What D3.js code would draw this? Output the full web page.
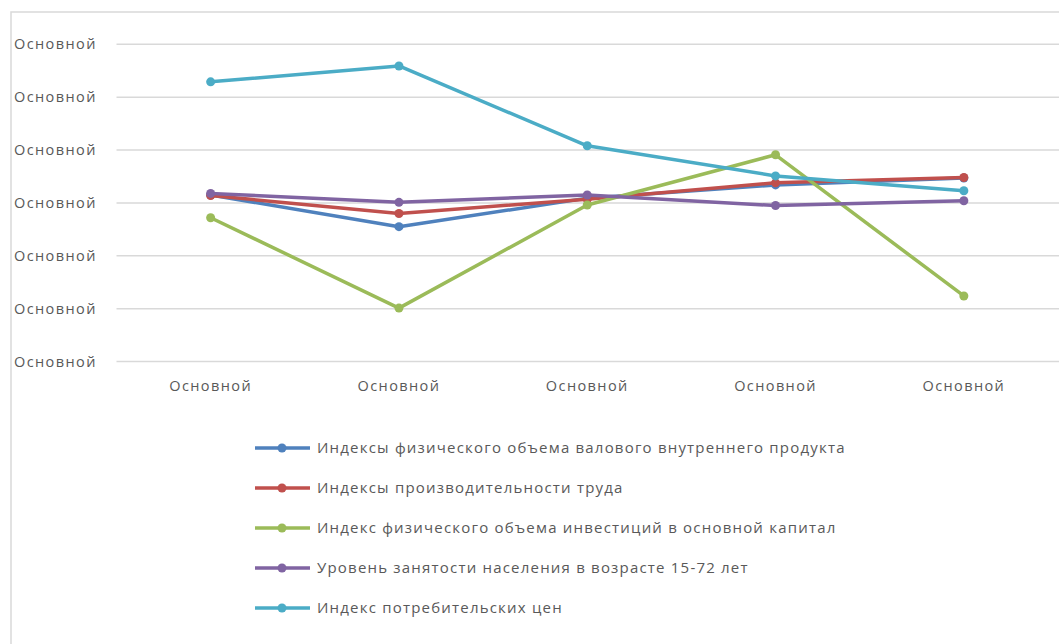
<!DOCTYPE html>
<html lang="ru">
<head>
<meta charset="UTF-8">
<title>Line Chart</title>
<style>
  body{margin:0;background:#fff;}
  svg{display:block;font-family:"Open Sans",sans-serif;}
  .grid line{stroke:#d9d9d9;stroke-width:1.5;}
  .axis text{fill:#595959;font-size:14.5px;letter-spacing:1.4px;}
  .legend text{fill:#595959;font-size:15px;letter-spacing:1.2px;}
</style>
</head>
<body>
<script src="https://cdn.jsdelivr.net/npm/d3@7"></script>
<script>
// категории (подписи по оси X) и подписи оси Y
var categories = ["Основной", "Основной", "Основной", "Основной", "Основной"];
var yTickLabels = ["Основной", "Основной", "Основной", "Основной", "Основной", "Основной", "Основной"];

// ряды
var seriesNames = [
  "Индексы физического объема валового внутреннего продукта",
  "Индексы производительности труда",
  "Индекс физического объема инвестиций в основной капитал",
  "Уровень занятости населения в возрасте 15-72 лет",
  "Индекс потребительских цен"
];
var gdp        = [3.15, 2.55, 3.09, 3.34, 3.47];
var labour     = [3.14, 2.80, 3.07, 3.38, 3.48];
var investment = [2.72, 1.01, 2.96, 3.91, 1.24];
var employment = [3.18, 3.01, 3.15, 2.95, 3.04];
var cpi        = [5.29, 5.59, 4.08, 3.51, 3.23];
var colors = ["#4f81bd", "#c0504d", "#9bbb59", "#8064a2", "#4bacc6"];

var allSeries = [gdp, labour, investment, employment, cpi];

var W = 1059, H = 644;
var svg = d3.select("body").append("svg").attr("width", W).attr("height", H);

// рамка области диаграммы (обрезана справа и снизу)
svg.append("rect")
  .attr("x", 11).attr("y", 12)
  .attr("width", W + 20).attr("height", H + 20)
  .attr("fill", "none").attr("stroke", "#d9d9d9").attr("stroke-width", 1.5);

var x = d3.scaleBand().domain(d3.range(categories.length)).range([116.5, 1058]);
var y = d3.scaleLinear().domain([0, 6]).range([361.5, 44.3]);

// сетка
svg.append("g").attr("class", "grid")
  .selectAll("line").data(d3.range(yTickLabels.length)).enter()
  .append("line")
  .attr("x1", 116.5).attr("x2", W)
  .attr("y1", function(d){ return y(d); })
  .attr("y2", function(d){ return y(d); });

// подписи оси Y
svg.append("g").attr("class", "axis")
  .selectAll("text").data(yTickLabels).enter()
  .append("text")
  .attr("x", 14)
  .attr("y", function(d, i){ return y(i); })
  .attr("dy", "0.35em")
  .text(function(d){ return d; });

// подписи оси X
svg.append("g").attr("class", "axis")
  .selectAll("text").data(categories).enter()
  .append("text")
  .attr("x", function(d, i){ return x(i) + x.bandwidth() / 2; })
  .attr("y", 386)
  .attr("dy", "0.35em")
  .attr("text-anchor", "middle")
  .text(function(d){ return d; });

var line = d3.line()
  .x(function(d, i){ return x(i) + x.bandwidth() / 2; })
  .y(function(d){ return y(d); });

allSeries.forEach(function(s, k){
  var g = svg.append("g");
  g.append("path")
    .datum(s)
    .attr("d", line)
    .attr("fill", "none")
    .attr("stroke", colors[k])
    .attr("stroke-width", 3.5)
    .attr("stroke-linejoin", "round")
    .attr("stroke-linecap", "round");
  g.selectAll("circle").data(s).enter()
    .append("circle")
    .attr("cx", function(d, i){ return x(i) + x.bandwidth() / 2; })
    .attr("cy", function(d){ return y(d); })
    .attr("r", 4.5)
    .attr("fill", colors[k]);
});

// легенда
var legend = svg.append("g").attr("class", "legend");
seriesNames.forEach(function(name, k){
  var ly = 448 + k * 40;
  legend.append("line")
    .attr("x1", 255).attr("x2", 310)
    .attr("y1", ly).attr("y2", ly)
    .attr("stroke", colors[k]).attr("stroke-width", 3.5);
  legend.append("circle")
    .attr("cx", 282).attr("cy", ly).attr("r", 4.5)
    .attr("fill", colors[k]);
  legend.append("text")
    .attr("x", 317).attr("y", ly)
    .attr("dy", "0.35em")
    .text(name);
});
</script>
</body>
</html>
